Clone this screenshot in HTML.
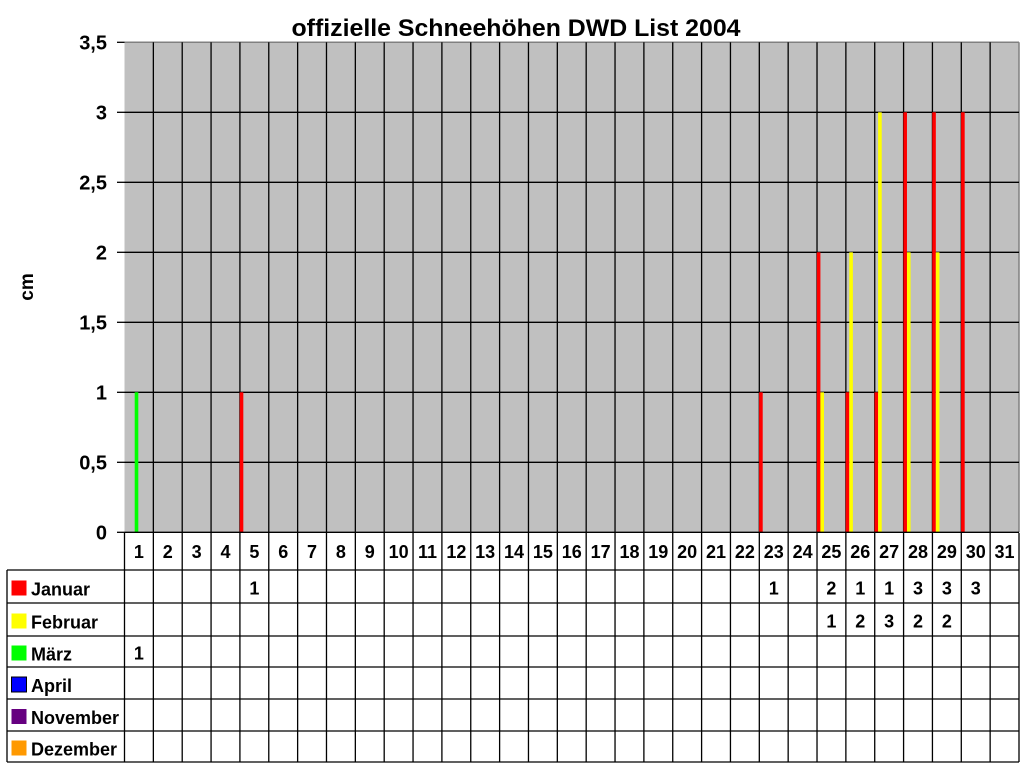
<!DOCTYPE html>
<html><head><meta charset="utf-8"><style>
html,body{margin:0;padding:0;background:#fff;width:1024px;height:768px;overflow:hidden}
svg text{font-family:"Liberation Sans",Arial,sans-serif;font-weight:bold;fill:#000}
</style></head><body>
<svg id="s" width="1024" height="768" xmlns="http://www.w3.org/2000/svg"></svg>
<script>
var s=document.getElementById('s'),h='';
var L=124.5,R=1019,T=42.3,Z=532.3,cw=(R-L)/31,u=140;
h+='<text x="516" y="36" font-size="24" text-anchor="middle" textLength="449" lengthAdjust="spacingAndGlyphs">offizielle Schneehöhen DWD List 2004</text>';
h+='<rect x="'+L+'" y="'+T+'" width="'+(R-L)+'" height="'+(Z-T)+'" fill="#c0c0c0"/>';
h+='<line x1="'+L+'" y1="'+T+'" x2="'+R+'" y2="'+T+'" stroke="#808080" stroke-width="1.5"/>';
h+='<line x1="'+R+'" y1="'+T+'" x2="'+R+'" y2="'+Z+'" stroke="#808080" stroke-width="1.5"/>';
var yl=['0','0,5','1','1,5','2','2,5','3','3,5'];
for(var i=0;i<8;i++){var y=Z-i*70;
 if(i>0&&i<7)h+='<line x1="'+L+'" y1="'+y+'" x2="'+R+'" y2="'+y+'" stroke="#000" stroke-width="1.3"/>';
 h+='<line x1="117" y1="'+y+'" x2="'+L+'" y2="'+y+'" stroke="#000" stroke-width="1.3"/>';
 h+='<text x="107" y="'+(y+7)+'" font-size="20" text-anchor="end">'+yl[i]+'</text>';}
for(var c=1;c<31;c++){var x=L+c*cw;h+='<line x1="'+x+'" y1="'+T+'" x2="'+x+'" y2="'+Z+'" stroke="#000" stroke-width="1.3"/>';}
h+='<text transform="translate(33,287) rotate(-90)" font-size="19" text-anchor="middle">cm</text>';
var jan={5:1,23:1,25:2,26:1,27:1,28:3,29:3,30:3},feb={25:1,26:2,27:3,28:2,29:2},mar={1:1};
function bars(d,off,col){for(var k in d){var x=L+(k-1)*cw+off;h+='<rect x="'+x+'" y="'+(Z-d[k]*u)+'" width="3.6" height="'+(d[k]*u)+'" fill="'+col+'"/>';}}
bars(jan,-0.2,'#ff0000');bars(feb,3.4,'#ffff00');bars(mar,10.2,'#00ff00');
var rows=[533,570,603,636,667,699,731,762];
h+='<line x1="'+L+'" y1="'+Z+'" x2="'+R+'" y2="'+Z+'" stroke="#000" stroke-width="1.3"/>';
for(var r=1;r<rows.length;r++)h+='<line x1="7" y1="'+rows[r]+'" x2="'+R+'" y2="'+rows[r]+'" stroke="#000" stroke-width="1.3"/>';
h+='<line x1="7" y1="570" x2="7" y2="762" stroke="#000" stroke-width="1.3"/>';
for(var c=0;c<=31;c++){var x=L+c*cw;h+='<line x1="'+x+'" y1="533" x2="'+x+'" y2="762" stroke="#000" stroke-width="1.3"/>';}
for(var c=1;c<=31;c++)h+='<text x="'+(L+(c-0.5)*cw)+'" y="558" font-size="18" text-anchor="middle">'+c+'</text>';
var names=['Januar','Februar','März','April','November','Dezember'],cols=['#ff0000','#ffff00','#00ff00','#0000ff','#660080','#ff9900'],data=[jan,feb,mar,{},{},{}];
for(var r=0;r<6;r++){var y0=rows[r+1],y1=rows[r+2],cy=(y0+y1)/2;
 h+='<rect x="11.5" y="'+(cy-6)+'" width="15" height="15" fill="'+cols[r]+'"'+(r==3?' stroke="#000" stroke-width="1"':'')+'/>';
 h+='<text x="31" y="'+(cy+9)+'" font-size="18">'+names[r]+'</text>';
 for(var k in data[r])h+='<text x="'+(L+(k-0.5)*cw)+'" y="'+(cy+8)+'" font-size="18" text-anchor="middle">'+data[r][k]+'</text>';}
s.innerHTML=h;
</script>
</body></html>
